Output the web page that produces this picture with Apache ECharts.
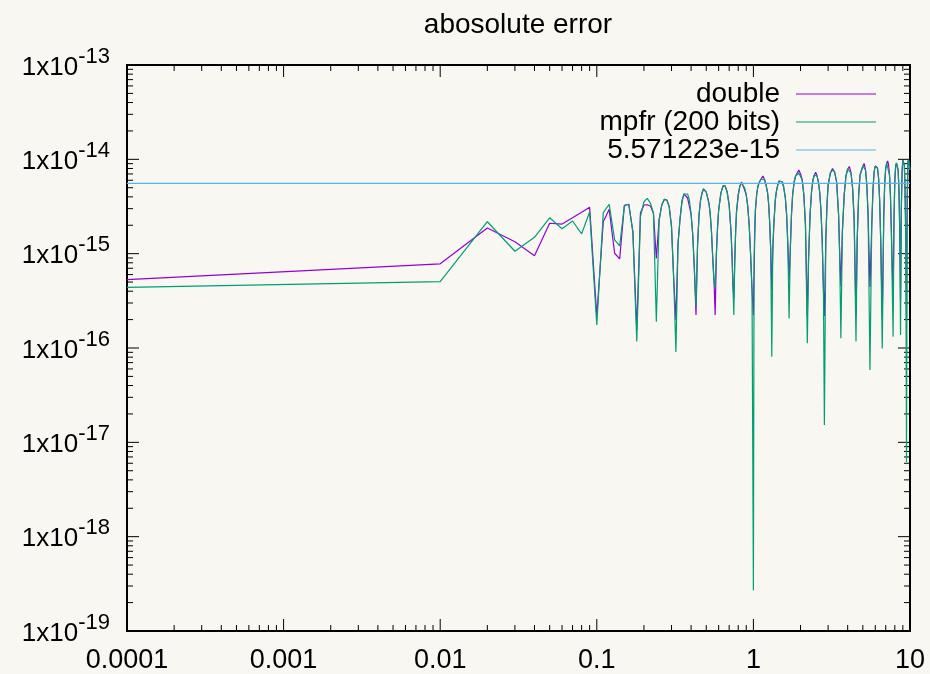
<!DOCTYPE html>
<html>
<head>
<meta charset="utf-8">
<title>abosolute error</title>
<script src="https://cdn.jsdelivr.net/npm/echarts@6/dist/echarts.min.js"></script>
<style>
  html, body { margin: 0; padding: 0; background: #f8f7f2; }
  #chart { width: 930px; height: 674px; }
</style>
</head>
<body>
<div id="chart"></div>
<script>
// Sample points (x) shared by both error curves
const xs = [
  0.0001, 0.01, 0.02, 0.03, 0.04, 0.05, 0.06, 0.07, 0.08, 0.09,
  0.10, 0.11, 0.12, 0.13, 0.14, 0.15, 0.16, 0.17, 0.18, 0.19, 0.20, 0.21, 0.22, 0.23, 0.24,
  0.25, 0.26, 0.27, 0.28, 0.29, 0.30, 0.31, 0.32,
  0.33, 0.34, 0.35, 0.36, 0.37, 0.38, 0.39, 0.40, 0.41, 0.42, 0.43,
  0.44, 0.45, 0.46, 0.47, 0.48, 0.49, 0.50, 0.52, 0.53, 0.54, 0.55, 0.56, 0.57,
  0.58, 0.59, 0.60, 0.62, 0.64, 0.65, 0.66, 0.68, 0.70, 0.72, 0.73, 0.74, 0.75,
  0.76, 0.77, 0.78, 0.80, 0.82, 0.84, 0.86, 0.88, 0.90, 0.92, 0.94, 0.96, 0.98, 1.00,
  1.01, 1.02, 1.03, 1.05, 1.07, 1.10, 1.12, 1.15, 1.18, 1.20, 1.23, 1.25, 1.27, 1.29, 1.31,
  1.33, 1.35, 1.38, 1.40, 1.43, 1.46, 1.50, 1.53, 1.56, 1.60, 1.63, 1.66, 1.69,
  1.72, 1.75, 1.78, 1.82, 1.86, 1.90, 1.95, 2.00, 2.05, 2.10, 2.15, 2.21,
  2.25, 2.30, 2.35, 2.40, 2.45, 2.50, 2.55, 2.60, 2.65, 2.70, 2.75, 2.80, 2.84,
  2.90, 2.95, 3.00, 3.10, 3.20, 3.30, 3.40, 3.50, 3.55, 3.62,
  3.70, 3.80, 3.90, 4.00, 4.10, 4.20, 4.30, 4.40, 4.52,
  4.60, 4.70, 4.80, 5.00, 5.10, 5.20, 5.30, 5.40, 5.55,
  5.70, 5.80, 5.90, 6.00, 6.10, 6.20, 6.30, 6.40, 6.50, 6.65,
  6.80, 6.90, 7.00, 7.10, 7.20, 7.30, 7.40, 7.50, 7.60, 7.80,
  7.90, 8.00, 8.10, 8.20, 8.30, 8.40, 8.50, 8.60, 8.70,
  8.80, 8.90, 9.00, 9.10, 9.20, 9.30, 9.40, 9.50,
  9.60, 9.70, 9.80, 9.90, 10.0
];

// Absolute error of the double-precision evaluation
const doubleErr = [
  5.3e-16, 7.8e-16, 1.87e-15, 1.34e-15, 9.5e-16, 2.1e-15, 2.06e-15, 2.4e-15, 2.75e-15, 3.1e-15,
  2.18e-16, 2.18e-15, 2.95e-15, 1.01e-15, 8.8e-16, 3.26e-15, 3.34e-15, 1.7e-15, 1.55e-16, 2.7e-15, 3.28e-15, 3.3e-15, 3.2e-15, 2.68e-15, 8.9e-16,
  2.28e-15, 3.28e-15, 3.77e-15, 3.71e-15, 3.15e-15, 1.93e-15, 5.3e-16, 1.98e-16,
  1.27e-15, 2.33e-15, 3.61e-15, 4.29e-15, 4.39e-15, 3.89e-15, 3.71e-15, 2.63e-15, 1.58e-15, 6.7e-16, 2.24e-16,
  1.24e-15, 2.63e-15, 3.71e-15, 4.39e-15, 4.85e-15, 4.85e-15, 4.5e-15, 3.44e-15, 2.63e-15, 1.7e-15, 9.0e-16, 5.3e-16, 2.24e-16,
  9.7e-16, 1.87e-15, 2.9e-15, 4.39e-15, 5.22e-15, 5.34e-15, 5.22e-15, 4.5e-15, 3.28e-15, 1.7e-15, 9.7e-16, 4.66e-16, 3.39e-16,
  8.16e-16, 1.7e-15, 2.76e-15, 4.19e-15, 5.22e-15, 5.75e-15, 5.48e-15, 4.73e-15, 4.19e-15, 3.2e-15, 2.01e-15, 9.7e-16, 4.12e-16, 2.24e-16,
  5.9e-16, 1.58e-15, 2.9e-15, 4.29e-15, 5.22e-15, 5.89e-15, 6.19e-15, 6.66e-15, 6.04e-15, 5.48e-15, 4.5e-15, 3.44e-15, 2.17e-15, 1.09e-15, 4.12e-16,
  1.09e-15, 2.01e-15, 3.71e-15, 4.5e-15, 5.34e-15, 5.89e-15, 6.04e-15, 5.75e-15, 5.09e-15, 3.89e-15, 2.57e-15, 1.24e-15, 5.3e-16,
  1.09e-15, 2.57e-15, 4.19e-15, 5.75e-15, 6.66e-15, 6.99e-15, 7.7e-15, 6.99e-15, 6.04e-15, 4.19e-15, 2.01e-15, 2.15e-16,
  8.6e-16, 2.57e-15, 4.5e-15, 6.04e-15, 6.82e-15, 7.3e-15, 6.66e-15, 5.75e-15, 4.5e-15, 2.9e-15, 1.4e-15, 4.12e-16, 2.18e-16,
  1.4e-15, 3.28e-15, 5.34e-15, 7.16e-15, 8.0e-15, 7.34e-15, 5.75e-15, 2.57e-15, 1.09e-15, 4.54e-16,
  1.7e-15, 4.19e-15, 6.66e-15, 7.9e-15, 8.4e-15, 7.16e-15, 4.97e-15, 2.28e-15, 2.15e-16,
  1.4e-15, 4.19e-15, 6.82e-15, 8.5e-15, 9.0e-15, 7.7e-15, 5.34e-15, 2.57e-15, 4.43e-16,
  2.01e-15, 4.73e-15, 7.34e-15, 8.5e-15, 8.9e-15, 8.09e-15, 6.34e-15, 3.71e-15, 1.4e-15, 2.15e-16,
  2.57e-15, 5.75e-15, 8.09e-15, 9.14e-15, 9.6e-15, 8.71e-15, 6.82e-15, 4.19e-15, 1.78e-15, 3.23e-16,
  2.28e-15, 6.04e-15, 8.5e-15, 9.14e-15, 9.4e-15, 7.7e-15, 4.73e-15, 1.78e-15, 3.23e-16,
  2.9e-15, 7.34e-15, 9.8e-15, 9.96e-15, 8.71e-15, 4.73e-15, 1.4e-15, 1.98e-16,
  3.71e-15, 9.37e-15, 9.9e-15, 9.8e-15, 7.7e-15
];

// Absolute error of the 200-bit MPFR evaluation
const mpfrErr = [
  4.4e-16, 5.05e-16, 2.18e-15, 1.06e-15, 1.49e-15, 2.4e-15, 1.84e-15, 2.22e-15, 1.62e-15, 2.76e-15,
  1.75e-16, 2.72e-15, 3.34e-15, 1.4e-15, 1.21e-15, 3.2e-15, 3.34e-15, 1.7e-15, 1.17e-16, 2.47e-15, 3.55e-15, 3.85e-15, 3.42e-15, 2.68e-15, 1.9e-16,
  2.28e-15, 3.28e-15, 3.77e-15, 3.71e-15, 3.15e-15, 1.93e-15, 5.3e-16, 9.1e-17,
  1.27e-15, 2.33e-15, 3.61e-15, 4.29e-15, 4.5e-15, 4.29e-15, 3.71e-15, 2.63e-15, 1.58e-15, 6.7e-16, 2.74e-16,
  1.24e-15, 2.63e-15, 3.71e-15, 4.39e-15, 4.85e-15, 4.85e-15, 4.5e-15, 3.44e-15, 2.63e-15, 1.7e-15, 9.0e-16, 5.0e-16, 4.4e-16,
  9.7e-16, 1.87e-15, 2.9e-15, 4.39e-15, 5.22e-15, 5.34e-15, 5.22e-15, 4.5e-15, 3.28e-15, 1.7e-15, 9.7e-16, 4.66e-16, 2.24e-16,
  8.16e-16, 1.7e-15, 2.76e-15, 4.19e-15, 5.22e-15, 5.61e-15, 5.48e-15, 4.97e-15, 4.19e-15, 3.2e-15, 2.01e-15, 9.7e-16, 4.12e-16, 2.7e-19,
  8.16e-16, 1.87e-15, 2.9e-15, 4.29e-15, 5.22e-15, 5.89e-15, 6.19e-15, 6.34e-15, 6.04e-15, 5.48e-15, 4.5e-15, 3.44e-15, 2.17e-15, 1.09e-15, 8.1e-17,
  1.09e-15, 2.01e-15, 3.71e-15, 4.5e-15, 5.34e-15, 5.89e-15, 6.04e-15, 5.75e-15, 5.09e-15, 3.89e-15, 2.57e-15, 1.24e-15, 2.06e-16,
  1.09e-15, 2.57e-15, 4.19e-15, 5.75e-15, 6.66e-15, 6.99e-15, 7.16e-15, 6.99e-15, 6.04e-15, 4.19e-15, 2.01e-15, 1.12e-16,
  8.6e-16, 2.57e-15, 4.5e-15, 6.04e-15, 6.82e-15, 6.99e-15, 6.66e-15, 5.75e-15, 4.5e-15, 2.9e-15, 1.4e-15, 4.12e-16, 1.53e-17,
  1.4e-15, 3.28e-15, 5.34e-15, 7.16e-15, 7.7e-15, 7.34e-15, 5.75e-15, 2.57e-15, 1.09e-15, 1.27e-16,
  1.7e-15, 4.19e-15, 6.66e-15, 7.9e-15, 8.09e-15, 7.16e-15, 4.97e-15, 2.28e-15, 1.17e-16,
  1.4e-15, 4.19e-15, 6.82e-15, 8.5e-15, 8.71e-15, 7.7e-15, 5.34e-15, 2.57e-15, 5.85e-17,
  2.01e-15, 4.73e-15, 7.34e-15, 8.5e-15, 8.71e-15, 8.09e-15, 6.34e-15, 3.71e-15, 1.4e-15, 9.9e-17,
  2.57e-15, 5.75e-15, 8.09e-15, 9.14e-15, 9.37e-15, 8.71e-15, 6.82e-15, 4.19e-15, 1.78e-15, 1.32e-16,
  2.28e-15, 6.04e-15, 8.5e-15, 9.14e-15, 9.14e-15, 7.7e-15, 4.73e-15, 1.78e-15, 1.37e-16,
  2.9e-15, 7.34e-15, 9.8e-15, 9.96e-15, 8.71e-15, 4.73e-15, 1.4e-15, 6.2e-18,
  3.71e-15, 9.37e-15, 9.9e-15, 9.8e-15, 7.7e-15
];

// Reference level drawn as a horizontal line
const thresholdValue = 5.571223e-15;

const seriesNames = ['double', 'mpfr (200 bits)', '5.571223e-15'];
const seriesColors = ['#9400d3', '#009e73', '#56b4e9'];

const xTickValues = [1e-4, 1e-3, 1e-2, 1e-1, 1, 10];
const xTickLabels = ['0.0001', '0.001', '0.01', '0.1', '1', '10'];
const yTickValues = [1e-19, 1e-18, 1e-17, 1e-16, 1e-15, 1e-14, 1e-13];
const yTickExponents = ['-19', '-18', '-17', '-16', '-15', '-14', '-13'];

const X_MIN = xTickValues[0], X_MAX = xTickValues[xTickValues.length - 1];
const Y_MIN = yTickValues[0], Y_MAX = yTickValues[yTickValues.length - 1];
const FONT = '"Liberation Sans", Arial, Helvetica, sans-serif';
const MAJOR_LEN = 12, MINOR_LEN = 6;

function pair(xv, yv) {
  const n = Math.min(xv.length, yv.length);
  const out = [];
  for (let i = 0; i < n; i++) out.push([xv[i], yv[i]]);
  return out;
}

function nearestIndex(v, ticks) {
  const lv = Math.log10(v);
  let best = 0;
  for (let i = 1; i < ticks.length; i++) {
    if (Math.abs(Math.log10(ticks[i]) - lv) < Math.abs(Math.log10(ticks[best]) - lv)) best = i;
  }
  return best;
}

// 2..9 times each decade, between consecutive major ticks
function minorTicks(ticks) {
  const out = [];
  for (let i = 0; i < ticks.length - 1; i++) {
    for (let k = 2; k <= 9; k++) out.push(ticks[i] * k);
  }
  return out;
}

const xTickData = xTickValues.map(v => [v, Y_MIN, MAJOR_LEN])
  .concat(minorTicks(xTickValues).map(v => [v, Y_MIN, MINOR_LEN]));
const yTickData = yTickValues.map(v => [X_MIN, v, MAJOR_LEN])
  .concat(minorTicks(yTickValues).map(v => [X_MIN, v, MINOR_LEN]));

const tickStyle = { stroke: '#000', lineWidth: 1 };

// Inward ticks on bottom and top edges
function renderXTick(params, api) {
  const v = api.value(0), len = api.value(2);
  const b = api.coord([v, Y_MIN]);
  const t = api.coord([v, Y_MAX]);
  return {
    type: 'group',
    children: [
      { type: 'line', shape: { x1: b[0], y1: b[1], x2: b[0], y2: b[1] - len }, style: tickStyle },
      { type: 'line', shape: { x1: t[0], y1: t[1], x2: t[0], y2: t[1] + len }, style: tickStyle }
    ]
  };
}

// Inward ticks on left and right edges
function renderYTick(params, api) {
  const v = api.value(1), len = api.value(2);
  const l = api.coord([X_MIN, v]);
  const r = api.coord([X_MAX, v]);
  return {
    type: 'group',
    children: [
      { type: 'line', shape: { x1: l[0], y1: l[1], x2: l[0] + len, y2: l[1] }, style: tickStyle },
      { type: 'line', shape: { x1: r[0], y1: r[1], x2: r[0] - len, y2: r[1] }, style: tickStyle }
    ]
  };
}

function lineSeries(idx, data) {
  return {
    type: 'line',
    name: seriesNames[idx],
    data: data,
    symbol: 'none',
    showSymbol: false,
    color: seriesColors[idx],
    lineStyle: { color: seriesColors[idx], width: 1.2 },
    itemStyle: { color: seriesColors[idx] },
    emphasis: { disabled: true },
    z: 3 + idx
  };
}

const chart = echarts.init(document.getElementById('chart'), null, { renderer: 'canvas' });

chart.setOption({
  backgroundColor: '#f8f7f2',
  animation: false,
  title: {
    text: 'abosolute error',
    left: 518,
    top: 11,
    textAlign: 'center',
    padding: 0,
    textStyle: { fontSize: 28, fontWeight: 'normal', color: '#000', fontFamily: FONT }
  },
  legend: {
    data: seriesNames,
    orient: 'vertical',
    align: 'right',
    right: 54,
    top: 80,
    padding: 0,
    itemWidth: 80,
    itemHeight: 1,
    itemGap: 0,
    icon: 'rect',
    selectedMode: false,
    textStyle: { fontSize: 28, color: '#000', fontFamily: FONT, padding: [0, 11, 0, 0] }
  },
  grid: {
    left: 127, right: 20, top: 65, bottom: 43,
    show: true,
    borderColor: '#000',
    borderWidth: 2,
    backgroundColor: 'transparent',
    containLabel: false,
    outerBoundsMode: 'none'
  },
  xAxis: {
    type: 'log',
    logBase: 10,
    min: X_MIN,
    max: X_MAX,
    splitNumber: 5,
    axisLine: { show: false },
    axisTick: { show: false },
    minorTick: { show: false },
    splitLine: { show: false },
    axisLabel: {
      fontSize: 27,
      color: '#000',
      fontFamily: FONT,
      margin: 16,
      showMinLabel: true,
      showMaxLabel: true,
      hideOverlap: false,
      formatter: v => xTickLabels[nearestIndex(v, xTickValues)]
    }
  },
  yAxis: {
    type: 'log',
    logBase: 10,
    min: Y_MIN,
    max: Y_MAX,
    splitNumber: 6,
    axisLine: { show: false },
    axisTick: { show: false },
    minorTick: { show: false },
    splitLine: { show: false },
    axisLabel: {
      color: '#000',
      fontFamily: FONT,
      fontSize: 26,
      margin: 17,
      showMinLabel: true,
      showMaxLabel: true,
      hideOverlap: false,
      formatter: v => '{b|1x10}{s|' + yTickExponents[nearestIndex(v, yTickValues)] + '}',
      rich: {
        b: { fontSize: 26, fontFamily: FONT, color: '#000', lineHeight: 26, padding: [5, 0, 0, 0] },
        s: { fontSize: 22, fontFamily: FONT, color: '#000', lineHeight: 22, padding: [0, 0, 17, 0] }
      }
    }
  },
  series: [
    lineSeries(0, pair(xs, doubleErr)),
    lineSeries(1, pair(xs, mpfrErr)),
    lineSeries(2, [[X_MIN, thresholdValue], [X_MAX, thresholdValue]]),
    {
      type: 'custom',
      name: 'xticks',
      data: xTickData,
      encode: { x: 0, y: 1 },
      renderItem: renderXTick,
      silent: true,
      clip: false,
      z: 1
    },
    {
      type: 'custom',
      name: 'yticks',
      data: yTickData,
      encode: { x: 0, y: 1 },
      renderItem: renderYTick,
      silent: true,
      clip: false,
      z: 1
    }
  ]
});
</script>
</body>
</html>
